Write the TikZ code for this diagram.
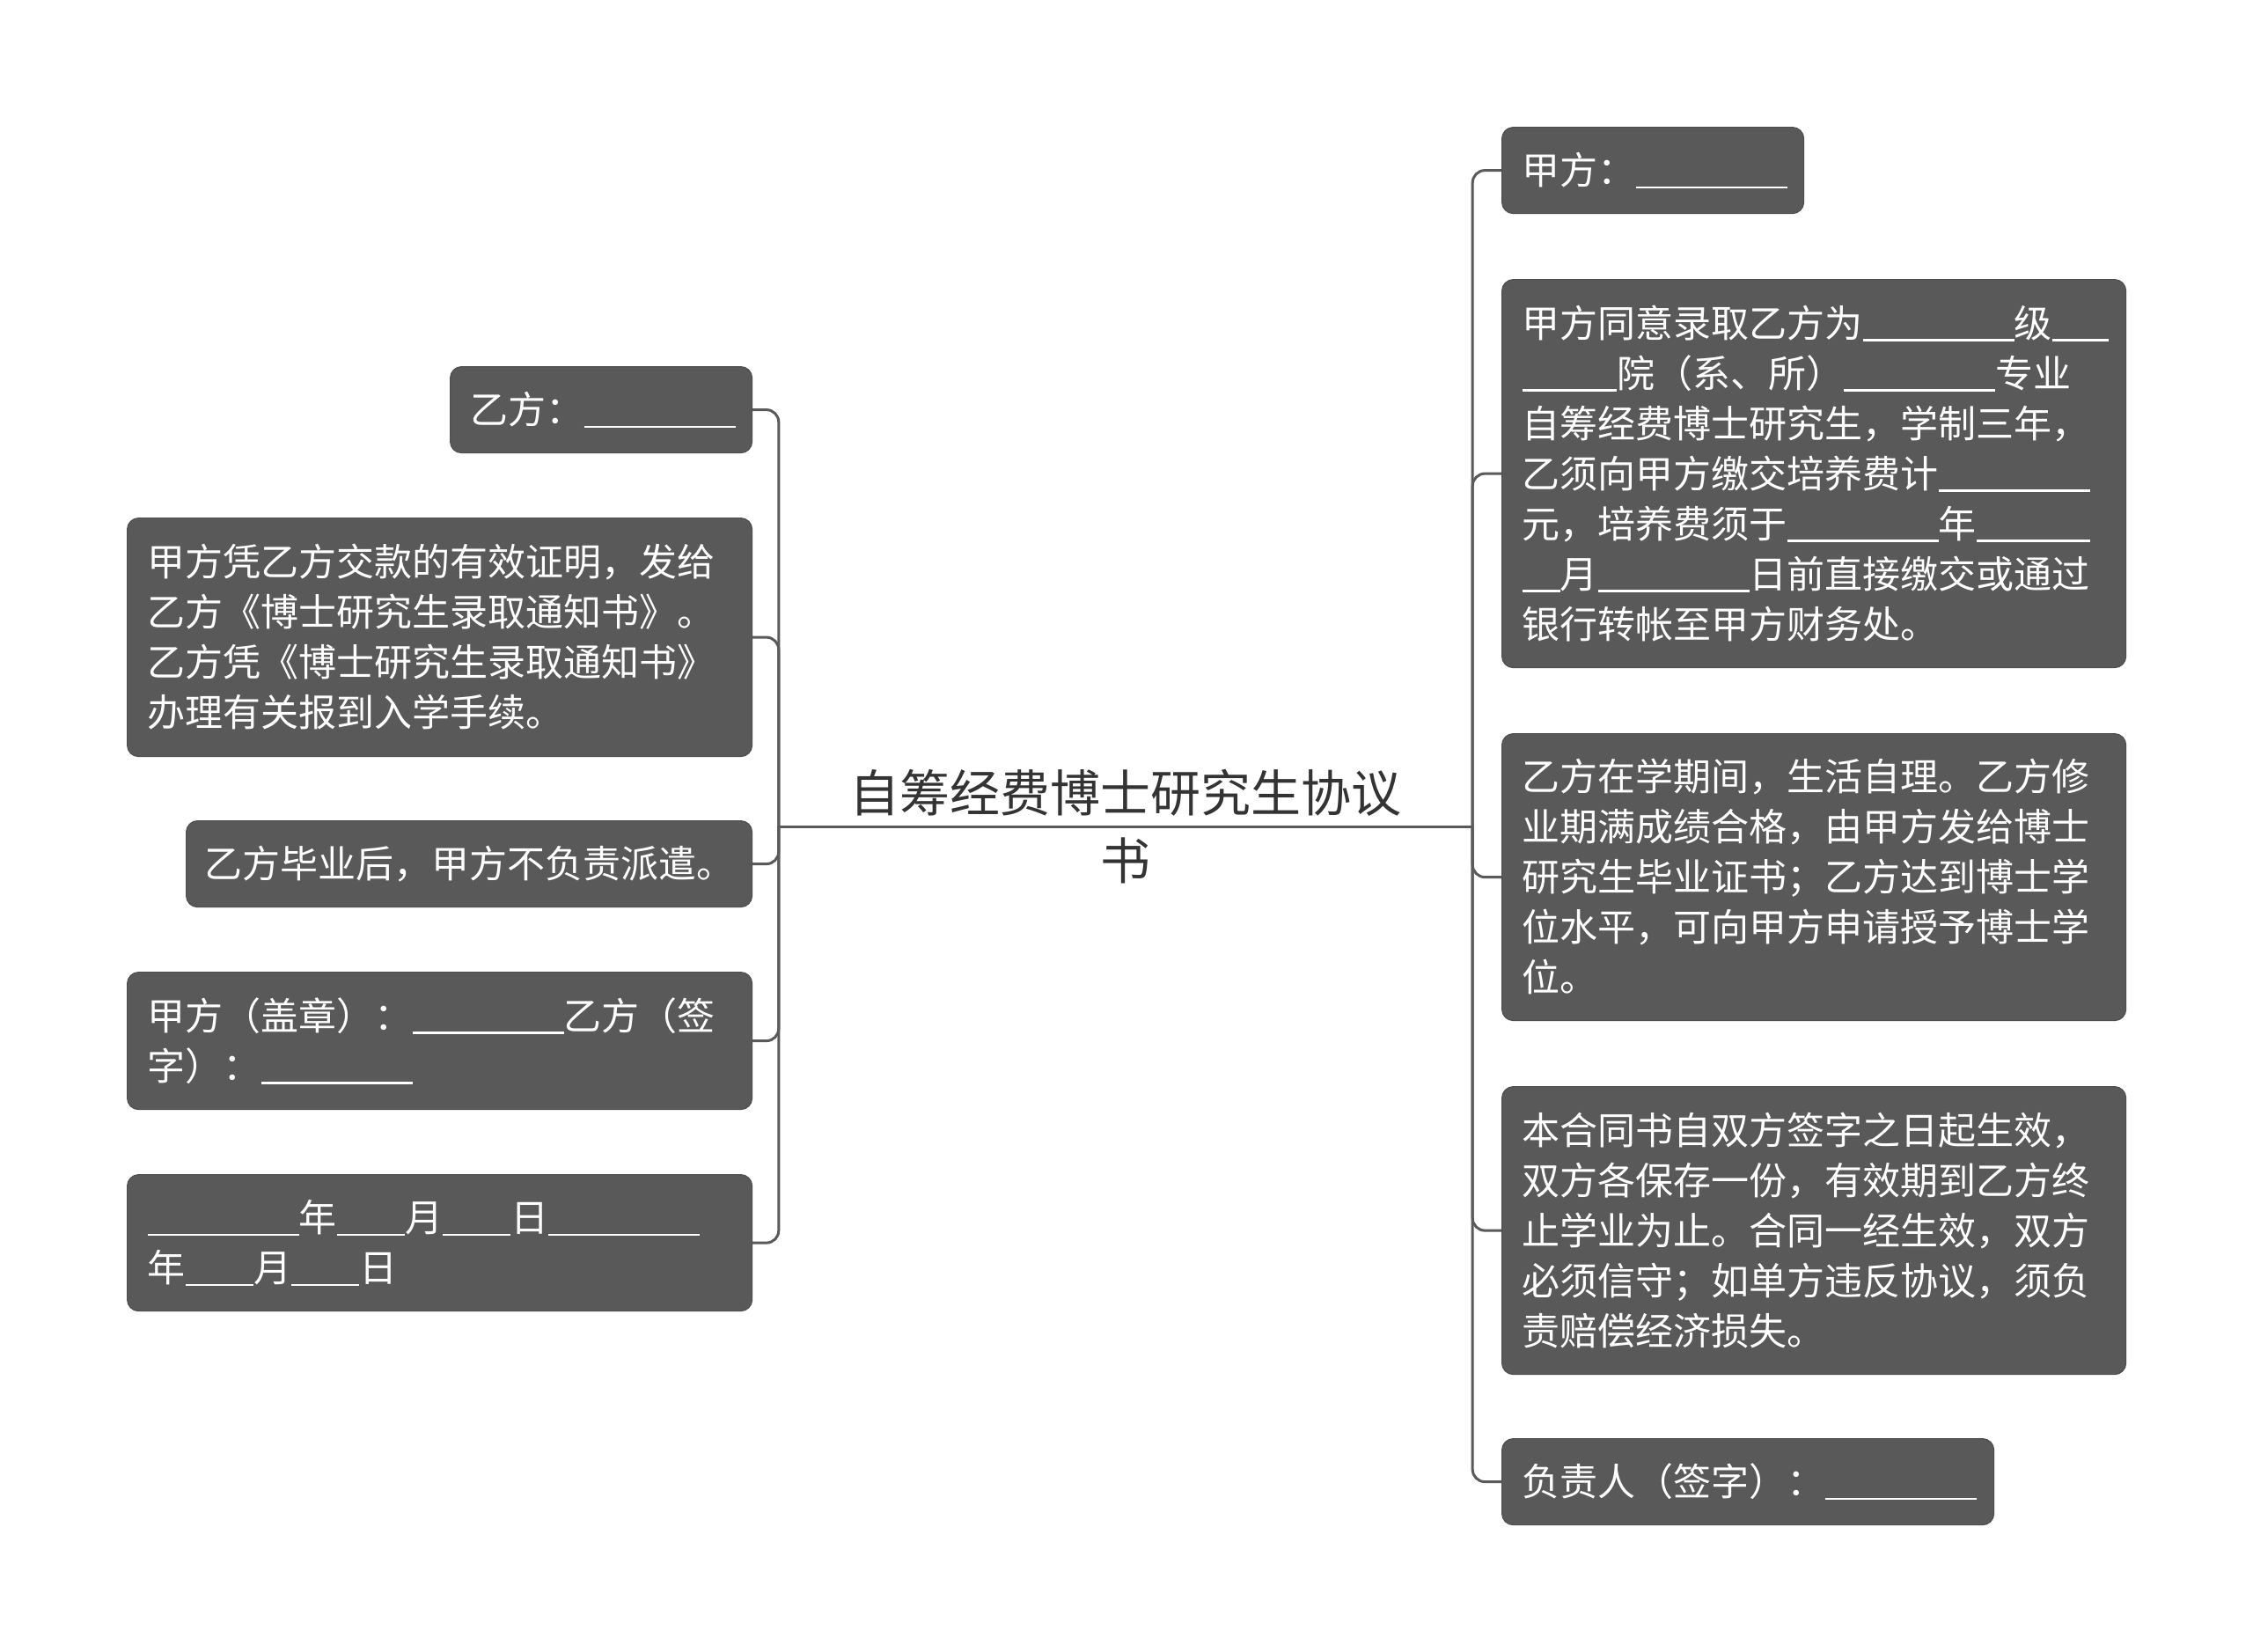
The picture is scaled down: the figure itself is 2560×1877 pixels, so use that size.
\documentclass[tikz,border=0pt]{standalone}
\usepackage{fontspec}
\newfontfamily\cjk{Noto Sans CJK SC}
\definecolor{boxfill}{HTML}{595959}
\definecolor{boxline}{HTML}{4F4F4F}
\definecolor{connc}{HTML}{5A5A5A}
\definecolor{rootc}{HTML}{333333}
\newcommand\myst{\rule[-0.12em]{0pt}{1em}}
\newcommand\blankem[1]{\rule[-0.1em]{#1em}{2.5pt}}
\newcommand\ueight{\blankem{4}}
\newcommand\uthree{\blankem{1.5}}
\newcommand\uthreew{\blankem{1.8}}
\tikzset{
  box/.style={rectangle, rounded corners=13pt, fill=boxfill, draw=boxline, line width=1.2pt,
    text=white, font=\cjk\fontsize{43pt}{57pt}\selectfont, align=left,
    inner xsep=23pt, inner ysep=0pt, anchor=north west},
  rootnode/.style={rectangle, font=\cjk\fontsize{57pt}{77pt}\selectfont, text=rootc,
    align=center, inner sep=0pt, minimum width=788pt},
  conn/.style={draw=connc, line width=3pt, rounded corners=14pt},
}
\begin{document}
\begin{tikzpicture}[x=1pt,y=-1pt]
\useasboundingbox (0,0) rectangle (2560,1877);
\fill[white] (0,0) rectangle (2560,1877);

% root
\node[rootnode] (root) at (1279,939) {\myst 自筹经费博士研究生协议\\书\myst};

% right boxes
\node[box, text width=297pt, minimum height=98pt] (r1) at (1706,144) {\myst 甲方：\ueight\myst};
\node[box, text width=663pt, minimum height=441pt] (r2) at (1706,317) {\myst 甲方同意录取乙方为\ueight 级\uthree\\
\blankem{2.5}院（系、所）\ueight 专业\\
自筹经费博士研究生，学制三年，\\
乙须向甲方缴交培养费计\ueight\\
元，培养费须于\ueight 年\blankem{3}\\
\blankem{1}月\ueight 日前直接缴交或通过\\
银行转帐至甲方财务处。\myst};
\node[box, text width=663pt, minimum height=326pt] (r3) at (1706,833) {\myst 乙方在学期间，生活自理。乙方修\\
业期满成绩合格，由甲方发给博士\\
研究生毕业证书；乙方达到博士学\\
位水平，可向甲方申请授予博士学\\
位。\myst};
\node[box, text width=663pt, minimum height=327pt] (r4) at (1706,1234) {\myst 本合同书自双方签字之日起生效，\\
双方各保存一份，有效期到乙方终\\
止学业为止。合同一经生效，双方\\
必须信守；如单方违反协议，须负\\
责赔偿经济损失。\myst};
\node[box, text width=513pt, minimum height=98pt] (r5) at (1706,1634) {\myst 负责人（签字）：\ueight\myst};

% left boxes
\node[box, text width=297pt, minimum height=98pt] (l1) at (511,416) {\myst 乙方：\ueight\myst};
\node[box, text width=664pt, minimum height=271pt] (l2) at (144,588) {\myst 甲方凭乙方交款的有效证明，发给\\
乙方《博士研究生录取通知书》。\\
乙方凭《博士研究生录取通知书》\\
办理有关报到入学手续。\myst};
\node[box, text width=601pt, inner xsep=21pt, minimum height=98pt] (l3) at (211,932) {\myst 乙方毕业后，甲方不负责派遣。\myst};
\node[box, text width=664pt, minimum height=156pt] (l4) at (144,1104) {\myst 甲方（盖章）：\ueight 乙方（签\\
字）：\ueight\myst};
\node[box, text width=664pt, minimum height=155pt] (l5) at (144,1334) {\myst\ueight 年\uthreew 月\uthreew 日\ueight\\
年\uthreew 月\uthreew 日\myst};

% connectors
\draw[conn] (root.west) -- (root.east);
\foreach \n in {l1,l2,l3,l4,l5} {
  \draw[conn] (root.west) |- (\n.east);
}
\foreach \n in {r1,r2,r3,r4,r5} {
  \draw[conn] (root.east) |- (\n.west);
}
\end{tikzpicture}
\end{document}
